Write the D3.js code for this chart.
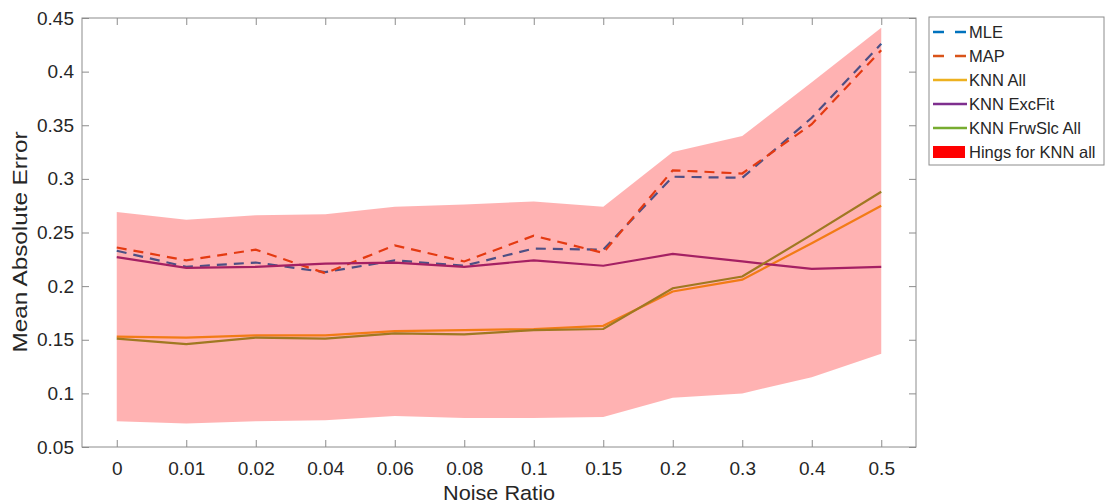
<!DOCTYPE html>
<html>
<head>
<meta charset="utf-8">
<script src="https://cdn.jsdelivr.net/npm/d3@7"></script>
<style>
  body { margin: 0; background: #fff; }
  svg { display: block; font-family: "Liberation Sans", Arial, sans-serif; }
</style>
</head>
<body>
<div id="chart"></div>
<script>
const noiseLabels = ['0', '0.01', '0.02', '0.04', '0.06', '0.08', '0.1', '0.15', '0.2', '0.3', '0.4', '0.5'];
const yTicks = [0.05, 0.1, 0.15, 0.2, 0.25, 0.3, 0.35, 0.4, 0.45];

const mle = [0.233, 0.218, 0.222, 0.213, 0.224, 0.219, 0.235, 0.234, 0.302, 0.301, 0.357, 0.426];
const map = [0.236, 0.224, 0.234, 0.212, 0.238, 0.223, 0.247, 0.231, 0.308, 0.305, 0.351, 0.420];
const knnAll = [0.153, 0.152, 0.154, 0.154, 0.158, 0.159, 0.160, 0.163, 0.195, 0.206, 0.240, 0.275];
const knnExcFit = [0.227, 0.217, 0.218, 0.221, 0.222, 0.218, 0.224, 0.219, 0.230, 0.223, 0.216, 0.218];
const knnFrwSlc = [0.151, 0.146, 0.152, 0.151, 0.156, 0.155, 0.159, 0.160, 0.198, 0.209, 0.248, 0.288];
const hingeTop = [0.269, 0.262, 0.266, 0.267, 0.274, 0.276, 0.279, 0.274, 0.325, 0.340, 0.390, 0.441];
const hingeBottom = [0.074, 0.072, 0.074, 0.075, 0.079, 0.077, 0.077, 0.078, 0.096, 0.100, 0.115, 0.137];

const series = [
  { name: 'MLE', values: mle, color: '#0072BD', dash: '10,7' },
  { name: 'MAP', values: map, color: '#D95319', dash: '10,7' },
  { name: 'KNN All', values: knnAll, color: '#EDB120', dash: null },
  { name: 'KNN ExcFit', values: knnExcFit, color: '#7E2F8E', dash: null },
  { name: 'KNN FrwSlc All', values: knnFrwSlc, color: '#77AC30', dash: null }
];
const bandName = 'Hings for KNN all';

const W = 1107, H = 503;
const plotL = 82, plotR = 916, plotT = 18, plotB = 447;
const axisColor = '#8c8c8c';
const textColor = '#262626';

const svg = d3.select('#chart').append('svg').attr('width', W).attr('height', H);

const x = d3.scaleLinear().domain([-0.5, noiseLabels.length - 0.5]).range([plotL, plotR]);
const y = d3.scaleLinear().domain([0.05, 0.45]).range([plotB, plotT]);

// lines first, band drawn over them with transparency (as in the original)
const line = d3.line().x((d, i) => x(i)).y(d => y(d));
series.forEach(s => {
  svg.append('path')
    .attr('d', line(s.values))
    .attr('fill', 'none')
    .attr('stroke', s.color)
    .attr('stroke-width', 2.2)
    .attr('stroke-dasharray', s.dash);
});

const area = d3.area()
  .x((d, i) => x(i))
  .y0((d, i) => y(hingeBottom[i]))
  .y1(d => y(d));
svg.append('path')
  .attr('d', area(hingeTop))
  .attr('fill', '#ff0000')
  .attr('fill-opacity', 0.3);

// axes
const tickLen = 7;
const xIdx = d3.range(noiseLabels.length);
const xAxisB = d3.axisBottom(x).tickValues(xIdx).tickFormat(i => noiseLabels[i]).tickSizeInner(-tickLen).tickSizeOuter(0).tickPadding(15);
const xAxisT = d3.axisTop(x).tickValues(xIdx).tickFormat('').tickSizeInner(-tickLen).tickSizeOuter(0);
const yAxisL = d3.axisLeft(y).tickValues(yTicks).tickFormat(d3.format('~g')).tickSizeInner(-tickLen).tickSizeOuter(0).tickPadding(8);
const yAxisR = d3.axisRight(y).tickValues(yTicks).tickFormat('').tickSizeInner(-tickLen).tickSizeOuter(0);

const gB = svg.append('g').attr('transform', `translate(0,${plotB})`).call(xAxisB);
const gT = svg.append('g').attr('transform', `translate(0,${plotT})`).call(xAxisT);
const gL = svg.append('g').attr('transform', `translate(${plotL},0)`).call(yAxisL);
const gR = svg.append('g').attr('transform', `translate(${plotR},0)`).call(yAxisR);
[gB, gT, gL, gR].forEach(g => {
  g.selectAll('.domain').remove();
  g.selectAll('line').attr('stroke', axisColor);
  g.selectAll('text').attr('fill', textColor).style('font-size', '19px').style('font-family', '"Liberation Sans", Arial, sans-serif');
});

svg.append('rect')
  .attr('x', plotL).attr('y', plotT)
  .attr('width', plotR - plotL).attr('height', plotB - plotT)
  .attr('fill', 'none').attr('stroke', axisColor).attr('stroke-width', 1);

// axis titles
svg.append('text')
  .attr('x', 499).attr('y', 500)
  .attr('text-anchor', 'middle')
  .attr('fill', textColor).style('font-size', '20.5px')
  .attr('textLength', 112).attr('lengthAdjust', 'spacingAndGlyphs')
  .text('Noise Ratio');
svg.append('text')
  .attr('transform', 'translate(27,242) rotate(-90)')
  .attr('text-anchor', 'middle')
  .attr('fill', textColor).style('font-size', '20.5px')
  .attr('textLength', 221).attr('lengthAdjust', 'spacingAndGlyphs')
  .text('Mean Absolute Error');

// legend
const lg = svg.append('g');
lg.append('rect')
  .attr('x', 929).attr('y', 17).attr('width', 175).attr('height', 148)
  .attr('fill', '#fff').attr('stroke', axisColor);
const rowY = i => 32 + i * 24;
series.forEach((s, i) => {
  lg.append('line')
    .attr('x1', 933).attr('x2', 967).attr('y1', rowY(i)).attr('y2', rowY(i))
    .attr('stroke', s.color).attr('stroke-width', 2.5)
    .attr('stroke-dasharray', s.dash ? '11,11' : null);
  lg.append('text')
    .attr('x', 969).attr('y', rowY(i)).attr('dy', '0.35em')
    .attr('fill', textColor).style('font-size', '16.5px')
    .text(s.name);
});
const bi = series.length;
lg.append('rect')
  .attr('x', 933).attr('y', rowY(bi) - 6).attr('width', 32).attr('height', 12)
  .attr('fill', '#ff0000');
lg.append('text')
  .attr('x', 969).attr('y', rowY(bi)).attr('dy', '0.35em')
  .attr('fill', textColor).style('font-size', '16.5px')
  .text(bandName);
</script>
</body>
</html>
